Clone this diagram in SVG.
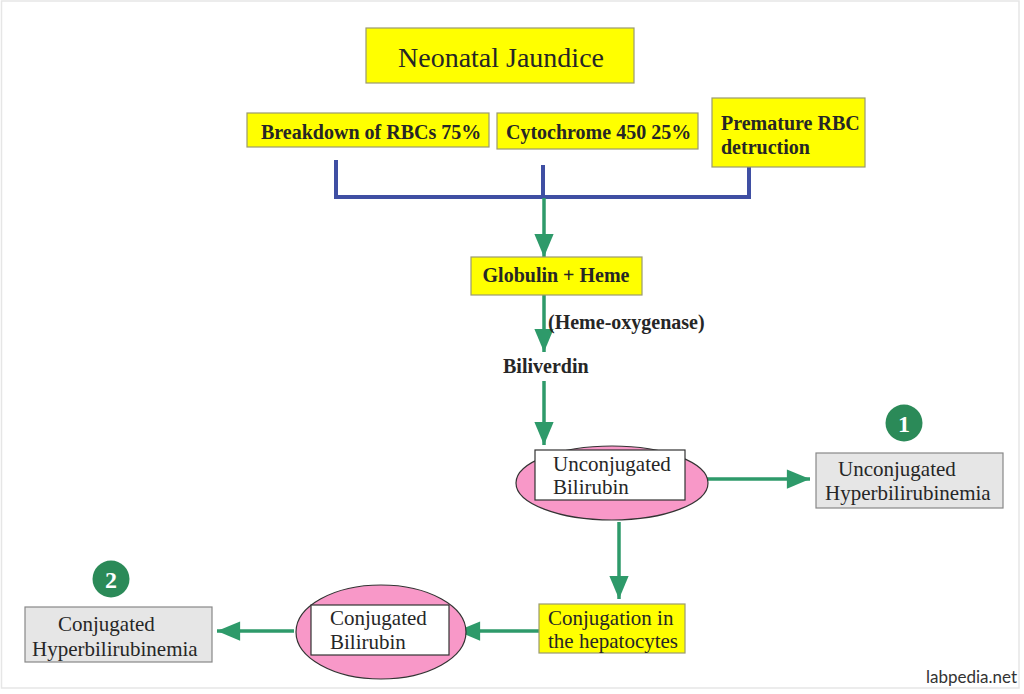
<svg xmlns="http://www.w3.org/2000/svg" width="1024" height="694" viewBox="0 0 1024 694">
<style>
.yb{fill:#FFFF00;stroke:#9a9a70;stroke-width:1.2}
.gb{fill:#E6E6E6;stroke:#888;stroke-width:1.2}
.wb{fill:#FFFFFF;stroke:#333;stroke-width:1.2}
.el{fill:#F898C8;stroke:#333;stroke-width:1.2}
.t{font-family:"Liberation Serif","Times New Roman",serif;fill:#262626}
.b{font-weight:bold;font-size:20px}
.r{font-size:21px}
.blue{stroke:#3F4FA3;stroke-width:4;fill:none}
.grn{stroke:#2E9A6A;stroke-width:3.5;fill:none}
.num{fill:#2B8A58}
.nt{font-family:"Liberation Serif","Times New Roman",serif;font-weight:bold;font-size:24px;fill:#fff}
</style>
<defs>
<marker id="ah" viewBox="0 0 12 10" refX="12" refY="5" markerWidth="7" markerHeight="5.5" markerUnits="strokeWidth" orient="auto">
<path d="M0,0 L12,5 L0,10 z" fill="#2E9A6A"/>
</marker>
</defs>
<rect x="0" y="0" width="1024" height="694" fill="#fff"/>
<rect x="1.5" y="1" width="1017.5" height="687" fill="none" stroke="#e6e6e6" stroke-width="1.5"/>

<g id="connectors">
<path class="blue" d="M336,160 V197 H749 V166"/>
<path class="blue" d="M543,165 V198"/>
<path class="grn" d="M544,198 V257" marker-end="url(#ah)"/>
<path class="grn" d="M544,295 V352" marker-end="url(#ah)"/>
<path class="grn" d="M544,381 V445" marker-end="url(#ah)"/>
<path class="grn" d="M697,479 H810" marker-end="url(#ah)"/>
<path class="grn" d="M619,522 V599" marker-end="url(#ah)"/>
<path class="grn" d="M539,631 H457" marker-end="url(#ah)"/>
<path class="grn" d="M294,631 H217" marker-end="url(#ah)"/>
</g>

<g id="title">
<rect class="yb" x="366" y="28" width="268" height="55"/>
<text class="t" x="501" y="67" font-size="28" text-anchor="middle">Neonatal Jaundice</text>
</g>
<g id="breakdown">
<rect class="yb" x="247" y="113" width="242" height="34"/>
<text class="t b" x="261" y="139">Breakdown of RBCs 75%</text>
</g>
<g id="cytochrome">
<rect class="yb" x="497" y="113" width="201" height="36"/>
<text class="t b" x="506" y="139">Cytochrome 450 25%</text>
</g>
<g id="premature">
<rect class="yb" x="712" y="98" width="153" height="69"/>
<text class="t b" x="721" y="130">Premature RBC</text>
<text class="t b" x="721" y="154">detruction</text>
</g>
<g id="globulin">
<rect class="yb" x="471" y="257" width="171" height="38"/>
<text class="t b" x="556" y="282" text-anchor="middle">Globulin + Heme</text>
</g>
<g id="hemeoxygenase">
<text class="t b" x="548" y="329">(Heme-oxygenase)</text>
</g>
<g id="biliverdin">
<text class="t b" x="503" y="373">Biliverdin</text>
</g>
<g id="unconjugated-bilirubin">
<ellipse class="el" cx="612" cy="483" rx="96" ry="37"/>
<rect class="wb" x="535" y="450" width="150" height="50"/>
<text class="t r" x="553" y="471">Unconjugated</text>
<text class="t r" x="553" y="494">Bilirubin</text>
</g>
<g id="unconjugated-hyper">
<rect class="gb" x="816" y="453" width="187" height="55"/>
<text class="t r" x="838" y="476">Unconjugated</text>
<text class="t r" x="825" y="500">Hyperbilirubinemia</text>
</g>
<g id="badge1">
<circle class="num" cx="904" cy="423" r="18.5"/>
<text class="nt" x="904" y="432" text-anchor="middle">1</text>
</g>
<g id="conjugation">
<rect class="yb" x="539" y="604" width="146" height="49"/>
<text class="t r" x="548" y="625">Conjugation in</text>
<text class="t r" x="548" y="648">the hepatocytes</text>
</g>
<g id="conjugated-bilirubin">
<ellipse class="el" cx="381" cy="632" rx="85" ry="47"/>
<rect class="wb" x="311" y="605" width="138" height="50"/>
<text class="t r" x="330" y="625">Conjugated</text>
<text class="t r" x="330" y="649">Bilirubin</text>
</g>
<g id="conjugated-hyper">
<rect class="gb" x="25" y="607" width="187" height="55"/>
<text class="t r" x="58" y="631">Conjugated</text>
<text class="t r" x="32" y="656">Hyperbilirubinemia</text>
</g>
<g id="badge2">
<circle class="num" cx="111" cy="579" r="18.5"/>
<text class="nt" x="111" y="588" text-anchor="middle">2</text>
</g>
<g id="watermark">
<text x="1017" y="683" text-anchor="end" font-family="Lato,'DejaVu Sans',sans-serif" font-size="17" fill="#333">labpedia.net</text>
</g>
</svg>
